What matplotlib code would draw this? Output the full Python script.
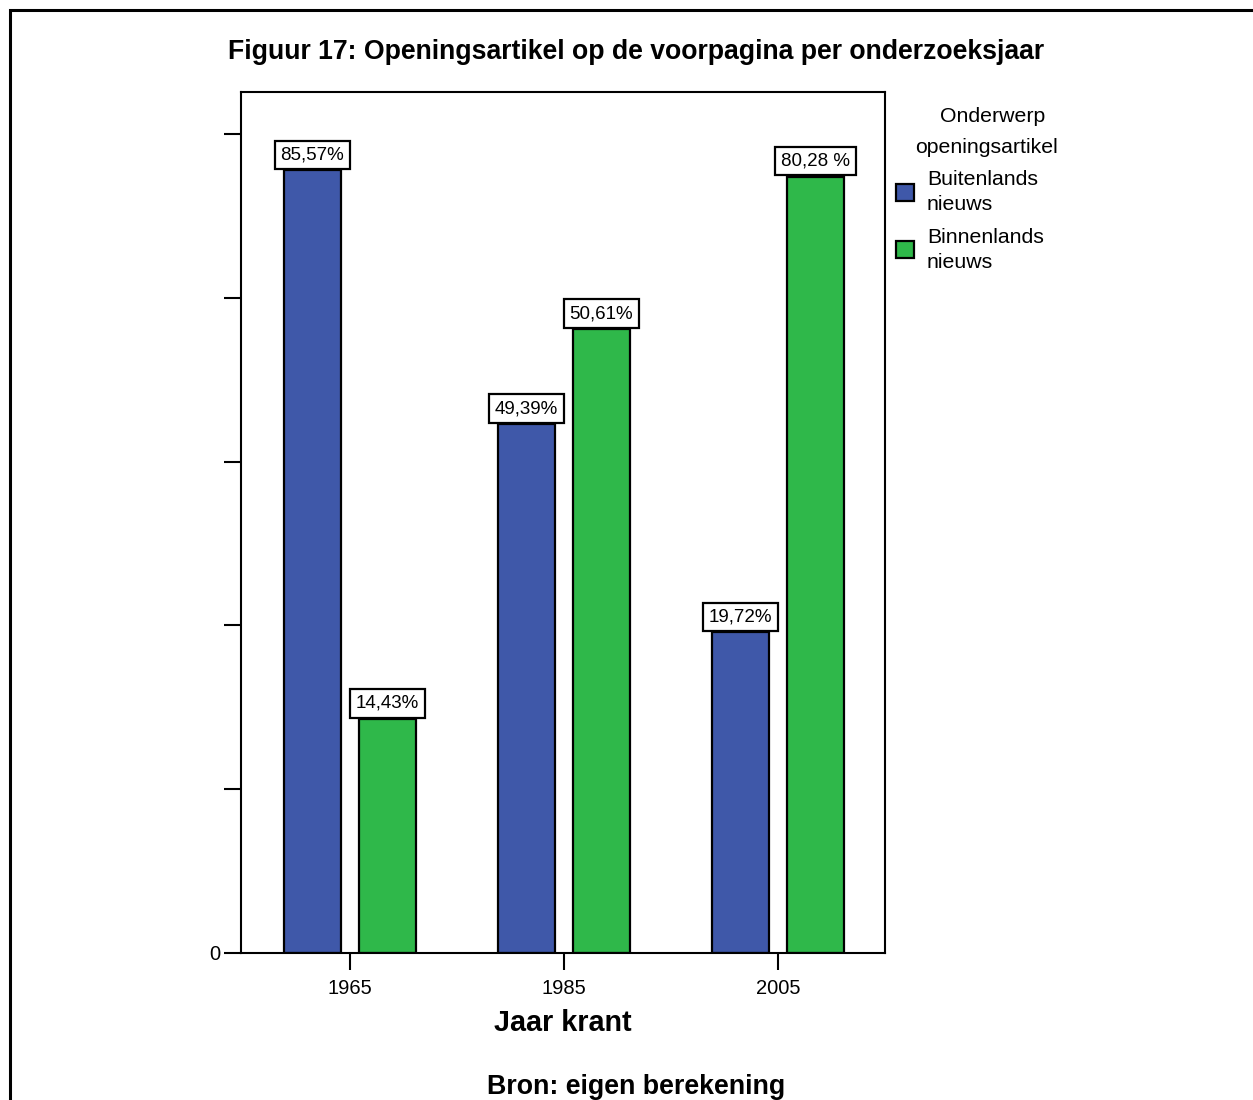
import numpy as np
import matplotlib
matplotlib.use("Agg")
import matplotlib.pyplot as plt
from matplotlib.patches import Rectangle, Patch

plt.rcParams['font.family'] = ['Liberation Sans', 'DejaVu Sans']

# data (bar heights in axis units, labels as printed)
years = ['1965', '1985', '2005']
buitenlands = [47.8, 32.3, 19.6]
binnenlands = [14.3, 38.1, 47.4]
buiten_labels = ['85,57%', '49,39%', '19,72%']
binnen_labels = ['14,43%', '50,61%', '80,28 %']
series_names = ['Buitenlands\nnieuws', 'Binnenlands\nnieuws']
y_ticks = [0, 10, 20, 30, 40, 50]

blue = '#3F58A9'
green = '#2FB84A'

fig = plt.figure(figsize=(12.53, 11), dpi=100)
ax = fig.add_axes([0.1923, 0.13364, 0.5140, 0.78273])

x = np.arange(len(years))
w = 0.265
b1 = ax.bar(x - 0.175, buitenlands, w, color=blue, edgecolor='black', linewidth=1.6, zorder=2)
b2 = ax.bar(x + 0.175, binnenlands, w, color=green, edgecolor='black', linewidth=1.6, zorder=2)

for bars, labs in [(b1, buiten_labels), (b2, binnen_labels)]:
    for rect, lab in zip(bars, labs):
        ax.annotate(lab, (rect.get_x() + rect.get_width() / 2, rect.get_height()),
                    xytext=(0, 11), textcoords='offset points',
                    ha='center', va='center', fontsize=13.5,
                    bbox=dict(boxstyle='square,pad=0.3', fc='white', ec='black', lw=1.6),
                    zorder=3)

ax.set_xlim(-0.509, 2.5)
ax.set_ylim(0, 52.56)
ax.set_xticks(x)
ax.set_xticklabels(years, fontsize=14.5)
ax.set_yticks(y_ticks)
ax.set_yticklabels(['0'] + [''] * (len(y_ticks) - 1), fontsize=14.5)
ax.tick_params(axis='both', direction='out', length=12, width=1.5)
ax.tick_params(axis='x', pad=6.5)
ax.tick_params(axis='y', pad=2.5)
for s in ax.spines.values():
    s.set_linewidth(1.5)

ax.set_xlabel('Jaar krant', fontsize=20.7, fontweight='bold', labelpad=8)

fig.text(0.5076, 0.9527, 'Figuur 17: Openingsartikel op de voorpagina per onderzoeksjaar',
         ha='center', va='center', fontsize=19.2, fontweight='bold')
fig.text(0.5076, 1 - 1087 / 1100, 'Bron: eigen berekening',
         ha='center', va='center', fontsize=19.3, fontweight='bold')

# legend
fig.text(992.5 / 1253, 1 - 116.5 / 1100, 'Onderwerp', ha='center', va='center', fontsize=15.3)
fig.text(986 / 1253, 1 - 147.5 / 1100, 'openingsartikel', ha='center', va='center', fontsize=15.3)
handles = [Patch(facecolor=blue, edgecolor='black', linewidth=1.6),
           Patch(facecolor=green, edgecolor='black', linewidth=1.6)]
leg = fig.legend(handles, series_names, loc='upper left',
                 bbox_to_anchor=(896 / 1253, 1 - 170 / 1100),
                 frameon=False, fontsize=15.3, handlelength=0.85, handleheight=0.85,
                 handletextpad=0.6, labelspacing=0.65, borderpad=0, borderaxespad=0)
for t in leg.get_texts():
    t.set_linespacing(1.4)

# outer frame
fig.patches.append(Rectangle((10 / 1253, -0.05), 1.1, 1 - 10 / 1100 + 0.05,
                             transform=fig.transFigure, fill=False, ec='black', lw=2.2))

fig.savefig('out.png', dpi=100)
